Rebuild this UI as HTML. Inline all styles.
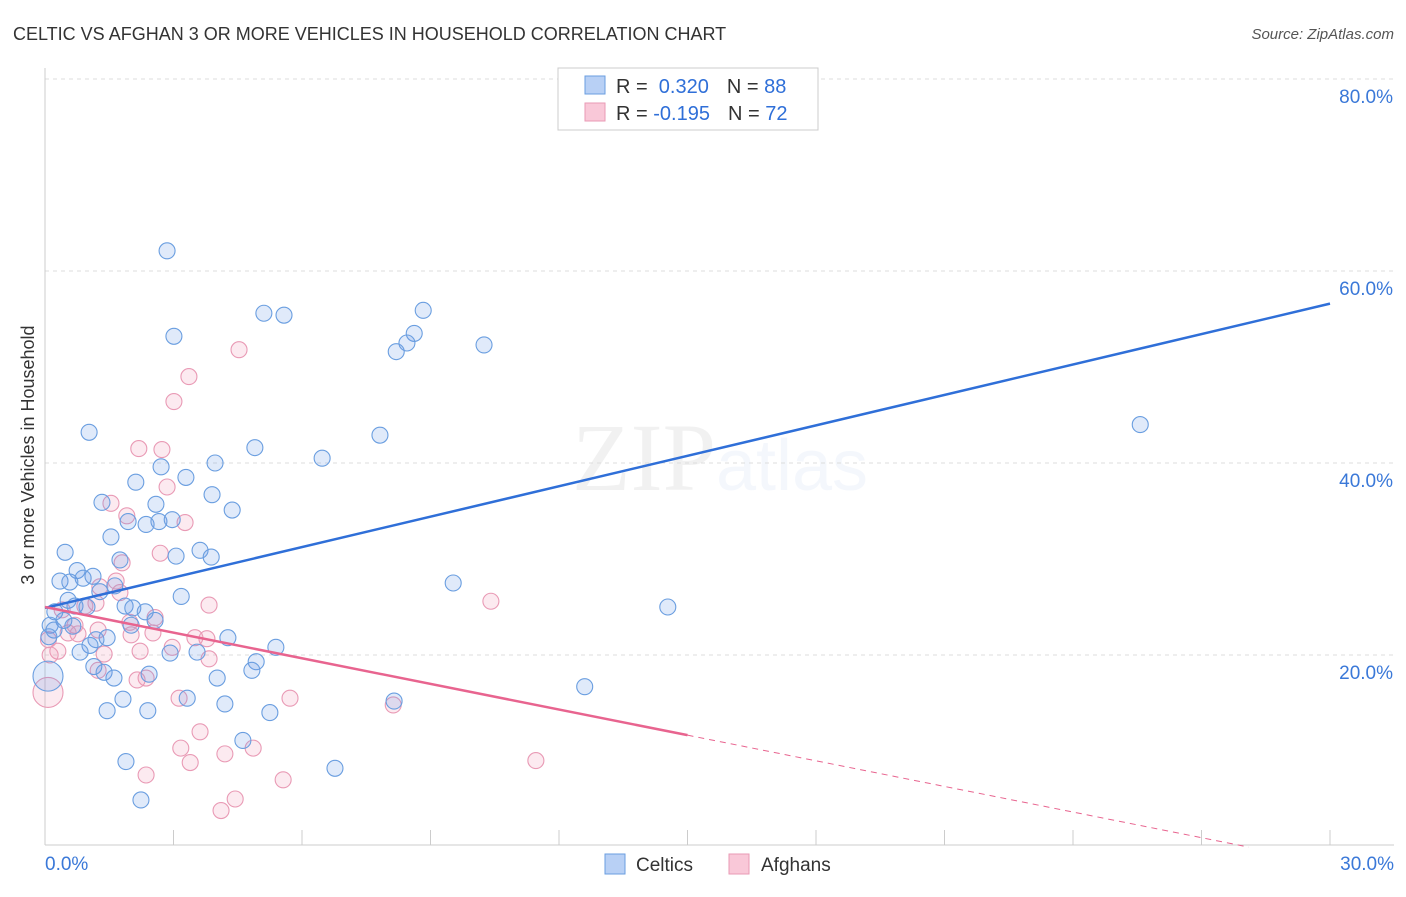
<!DOCTYPE html>
<html><head><meta charset="utf-8"><style>
body{margin:0;background:#fff;font-family:"Liberation Sans",sans-serif}
</style></head><body>
<svg id="chart" width="1406" height="892" xmlns="http://www.w3.org/2000/svg" font-family="Liberation Sans, sans-serif">
<text x="13" y="40" font-size="18" fill="#333">CELTIC VS AFGHAN 3 OR MORE VEHICLES IN HOUSEHOLD CORRELATION CHART</text>
<text x="1394" y="39" font-size="15" fill="#555" text-anchor="end" font-style="italic">Source: ZipAtlas.com</text>
<text x="720" y="490" font-size="96" text-anchor="middle" fill="#000" opacity="0.05" font-family="Liberation Serif, serif">ZIP<tspan fill="#3a6fd8" font-family="Liberation Sans, sans-serif" font-size="72">atlas</tspan></text>
<g id="grid"></g><g id="axes"></g><g id="pts"></g><g id="trend"></g>
<text transform="translate(34,455) rotate(-90)" font-size="18" fill="#333" text-anchor="middle">3 or more Vehicles in Household</text>
<g>
<rect x="558" y="68" width="260" height="62" fill="#fff" stroke="#ccc"/>
<rect x="585" y="76" width="20" height="18" fill="#b8d0f5" stroke="#6a9ee0"/>
<rect x="585" y="103" width="20" height="18" fill="#f9c8d8" stroke="#e99ab5"/>
<text x="616" y="93" font-size="20" fill="#333">R = <tspan fill="#2f6fd8">&#160;0.320</tspan><tspan dx="18">N = </tspan><tspan fill="#2f6fd8">88</tspan></text>
<text x="616" y="120" font-size="20" fill="#333">R = <tspan fill="#2f6fd8">-0.195</tspan><tspan dx="18">N = </tspan><tspan fill="#2f6fd8">72</tspan></text>
</g>
<g>
<rect x="605" y="854" width="20" height="20" fill="#b8d0f5" stroke="#6a9ee0"/>
<text x="636" y="871" font-size="19" fill="#333">Celtics</text>
<rect x="729" y="854" width="20" height="20" fill="#f9c8d8" stroke="#e99ab5"/>
<text x="761" y="871" font-size="19" fill="#333">Afghans</text>
</g>
</svg>
<script>
const celticsX=[2.85,3.01,5.11,5.58,8.83,8.62,8.45,8.20,10.25,1.03,25.57,7.82,4.90,6.47,3.97,2.71,3.29,2.12,3.90,1.33,2.59,4.37,1.94,2.36,2.66,2.97,1.54,0.47,3.62,3.06,3.88,1.75,0.75,1.12,0.89,0.35,0.58,9.53,1.63,1.28,3.18,14.54,0.54,0.70,0.98,1.87,2.05,2.34,0.23,0.44,2.57,0.12,0.21,0.65,2.01,1.45,0.09,1.19,4.27,1.05,5.39,0.82,3.55,2.92,4.93,4.83,1.14,1.38,2.43,1.61,4.02,0.07,12.6,1.82,3.32,8.15,4.20,1.45,2.40,5.25,4.62,1.89,6.77,2.24];
const celticsY=[62.1,53.2,55.6,55.4,55.9,53.5,52.5,51.6,52.3,43.2,44.0,42.9,41.6,40.5,40.0,39.6,38.5,38.0,36.7,35.9,35.7,35.1,33.9,33.6,33.9,34.1,32.3,30.7,30.9,30.3,30.2,29.9,28.8,28.2,28.0,27.7,27.6,27.5,27.2,26.6,26.1,25.0,25.7,25.1,25.0,25.1,24.9,24.5,24.5,23.6,23.6,23.1,22.6,23.0,23.1,21.8,21.9,21.6,21.8,21.0,20.8,20.3,20.3,20.2,19.3,18.4,18.8,18.2,18.0,17.6,17.6,17.8,16.7,15.4,15.5,15.2,14.9,14.2,14.2,14.0,11.1,8.9,8.2,4.9];
const afghansX=[4.53,3.36,3.01,2.19,2.73,2.85,1.54,1.91,3.27,2.69,1.80,1.66,1.28,1.75,1.19,0.93,10.41,3.83,0.40,2.57,1.98,0.70,1.24,0.54,2.52,0.77,2.01,3.50,3.78,0.08,2.97,0.30,2.22,1.38,0.12,3.83,1.24,2.36,2.15,3.13,5.72,8.13,0.07,3.62,3.17,4.86,4.20,3.39,11.46,2.36,5.56,4.44,4.11];
const afghansY=[51.8,49.0,46.4,41.5,41.4,37.5,35.8,34.5,33.8,30.6,29.6,27.7,27.1,26.5,25.4,25.1,25.6,25.2,24.7,23.9,23.4,23.1,22.6,22.3,22.3,22.2,22.1,21.8,21.7,21.6,20.8,20.4,20.4,20.1,20.0,19.6,18.4,17.6,17.4,15.5,15.5,14.8,16.1,12.0,10.3,10.3,9.7,8.8,9.0,7.5,7.0,5.0,3.8];
const celticsTrend=[24.9,56.6];
const afghansTrend=[25.0,-0.89];
const yTicks=[20,40,60,80];
const xTickLabels=["0.0%","30.0%"];
const NS="http://www.w3.org/2000/svg";
const X=v=>45+v/30*1285, Y=v=>847-v*9.6;
function mk(t,a,p){const e=document.createElementNS(NS,t);for(const k in a)e.setAttribute(k,a[k]);p.appendChild(e);return e;}
const grid=document.getElementById('grid'),axes=document.getElementById('axes'),pts=document.getElementById('pts'),tr=document.getElementById('trend');
yTicks.forEach(v=>{const l=mk('line',{x1:45,x2:1394,y1:Y(v),y2:Y(v),stroke:'#ddd','stroke-dasharray':'4,4'},grid);


const t=mk('text',{x:1393,y:Y(v)+24,'font-size':19,fill:'#3a78d8','text-anchor':'end'},axes);t.textContent=v.toFixed(1)+'%';

});
mk('line',{x1:45,x2:45,y1:68,y2:845,stroke:'#ccc'},axes);
mk('line',{x1:45,x2:1394,y1:845,y2:845,stroke:'#ccc'},axes);
for(let i=0;i<=10;i++){const tk=mk('line',{x1:X(i*3),x2:X(i*3),y1:830,y2:845,stroke:'#ccc'},axes);

}
[[0,'start',45],[1,'end',1394]].forEach(([i,a,x])=>{const t=mk('text',{x:x,y:870,'font-size':19,fill:'#3a78d8','text-anchor':a},axes);t.textContent=xTickLabels[i];

});
function dots(xs,ys,f,s,name){xs.forEach((x,i)=>{const big=x===0.07;const c=mk('circle',{cx:X(x),cy:Y(ys[i]),r:big?15:8,fill:f,stroke:s,'stroke-width':1.1},pts);

});}
dots(afghansX,afghansY,'rgba(240,150,180,0.2)','#e99ab5','afghans-point');
dots(celticsX,celticsY,'rgba(100,150,230,0.2)','#6a9ee0','celtics-point');
const bl=mk('line',{x1:X(0),y1:Y(celticsTrend[0]),x2:X(30),y2:Y(celticsTrend[1]),stroke:'#2f6fd8','stroke-width':2.5},tr);


const py=x=>afghansTrend[0]+afghansTrend[1]*x;
const pl=mk('line',{x1:X(0),y1:Y(py(0)),x2:X(15),y2:Y(py(15)),stroke:'#e8648f','stroke-width':2.5},tr);


const pd=mk('line',{x1:X(15),y1:Y(py(15)),x2:X(28.1),y2:Y(py(28.1)),stroke:'#e8648f','stroke-width':1,'stroke-dasharray':'6,5'},tr);


</script>
</body></html>
